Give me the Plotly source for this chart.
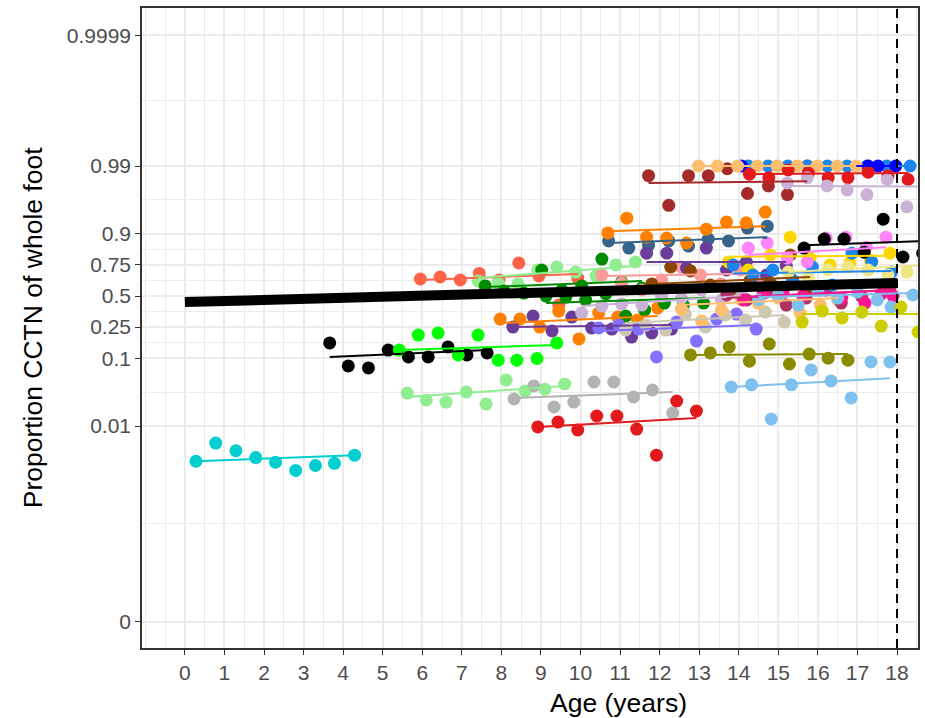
import numpy as np
import plotly.graph_objects as go

# ---------------- data (age in years, proportion CCTN) ----------------
turq_age = [0.28, 0.78, 1.29, 1.79, 2.29, 2.80, 3.30, 3.78, 4.29]
turq_p = [0.0029, 0.0055, 0.0042, 0.0033, 0.0028, 0.0021, 0.0025, 0.0027, 0.0036]
turq_fit = [0.0029, 0.0036]

blackyoung_age = [3.66, 4.13, 4.64, 5.14, 5.65, 6.15, 6.65, 7.13, 7.64]
blackyoung_p = [0.160, 0.078, 0.073, 0.129, 0.104, 0.104, 0.142, 0.111, 0.118]
blackyoung_fit = [0.104, 0.129]

green1_age = [5.42, 5.90, 6.40, 6.91, 7.41, 7.92, 8.39, 8.90, 9.40]
green1_p = [0.129, 0.201, 0.213, 0.111, 0.201, 0.094, 0.094, 0.099, 0.160]
green1_fit = [0.129, 0.151]

palegreenyoung_age = [5.62, 6.10, 6.60, 7.11, 7.61, 8.12, 8.60, 9.10, 9.60]
palegreenyoung_p = [0.0314, 0.0248, 0.0230, 0.0326, 0.0215, 0.0488, 0.0336, 0.0359, 0.0427]
palegreenyoung_fit = [0.0274, 0.040]

gray_age = [8.32, 8.82, 9.33, 9.83, 10.34, 10.84, 11.34, 11.82, 12.33]
gray_p = [0.0256, 0.040, 0.0194, 0.0230, 0.0457, 0.0457, 0.0274, 0.0349, 0.0158]
gray_fit = [0.0266, 0.0326]

redlow_age = [8.92, 9.43, 9.93, 10.41, 10.92, 11.42, 11.92, 12.43, 12.93]
redlow_p = [0.0097, 0.0115, 0.0087, 0.0142, 0.0142, 0.0090, 0.0036, 0.0239, 0.0169]
redlow_fit = [0.0097, 0.0133]

tomato_age = [5.95, 6.45, 6.96, 7.44, 7.94, 8.44, 8.95, 9.45, 9.93]
tomato_p = [0.646, 0.662, 0.638, 0.690, 0.638, 0.763, 0.670, 0.421, 0.654]
tomato_fit = [0.638, 0.686]

orangemid_age = [7.97, 8.47, 8.97, 9.45, 9.96, 10.46, 10.94, 11.44, 11.95]
orangemid_p = [0.307, 0.307, 0.250, 0.370, 0.180, 0.354, 0.322, 0.300, 0.396]
orangemid_fit = [0.278, 0.330]

purple_age = [8.29, 8.80, 9.28, 9.78, 10.28, 10.79, 11.29, 11.80, 12.30]
purple_p = [0.250, 0.330, 0.225, 0.322, 0.244, 0.237, 0.190, 0.213, 0.237]
purple_fit = [0.250, 0.264]

palegreenold_age = [7.41, 7.92, 8.42, 8.92, 9.40, 9.88, 10.39, 10.89, 11.39]
palegreenold_p = [0.630, 0.613, 0.605, 0.715, 0.736, 0.700, 0.670, 0.750, 0.769]
palegreenold_fit = [0.654, 0.743]

green4a_age = [7.59, 8.07, 8.57, 9.02, 9.53, 10.03, 10.54, 11.04, 11.55]
green4a_p = [0.588, 0.544, 0.526, 0.715, 0.553, 0.588, 0.787, 0.622, 0.570]
green4a_fit = [0.579, 0.630]

green4b_age = [9.13, 9.63, 10.13, 10.64, 11.14, 11.62, 12.12, 12.60, 13.11]
green4b_p = [0.500, 0.491, 0.465, 0.518, 0.330, 0.379, 0.438, 0.421, 0.438]
green4b_fit = [0.438, 0.482]

pink_age = [10.54, 11.04, 11.55, 12.05, 12.55, 13.03, 13.54, 14.04, 14.55]
pink_p = [0.677, 0.613, 0.553, 0.638, 0.736, 0.677, 0.605, 0.715, 0.630]
pink_fit = [0.670, 0.690]

thistlemid_age = [10.03, 10.54, 11.04, 11.55, 12.05, 12.55, 13.06, 13.56, 14.07]
thistlemid_p = [0.354, 0.412, 0.430, 0.421, 0.500, 0.482, 0.553, 0.465, 0.509]
thistlemid_fit = [0.412, 0.500]

slate_age = [10.46, 10.97, 11.47, 11.92, 12.43, 12.93, 13.44, 13.94, 14.44]
slate_p = [0.244, 0.264, 0.237, 0.104, 0.285, 0.169, 0.307, 0.346, 0.237]
slate_fit = [0.225, 0.264]

cornsilk_age = [11.14, 11.65, 12.15, 12.65, 13.16, 13.66, 14.17, 14.67, 15.15]
cornsilk_p = [0.231, 0.264, 0.231, 0.346, 0.250, 0.338, 0.300, 0.362, 0.285]
cornsilk_fit = [0.278, 0.338]

steel_age = [10.71, 11.22, 11.72, 12.23, 12.73, 13.23, 13.74, 14.22, 14.72]
steel_p = [0.875, 0.845, 0.858, 0.875, 0.854, 0.882, 0.875, 0.917, 0.922]
steel_fit = [0.867, 0.889]

orangetop_age = [10.69, 11.17, 11.67, 12.18, 12.68, 13.18, 13.69, 14.19, 14.67]
orangetop_p = [0.903, 0.940, 0.889, 0.886, 0.867, 0.914, 0.932, 0.930, 0.951]
orangetop_fit = [0.908, 0.922]

brown_age = [11.72, 12.23, 12.73, 13.23, 13.71, 14.22, 14.75, 15.23, 15.73]
brown_p = [0.986, 0.961, 0.986, 0.986, 0.989, 0.974, 0.980, 0.973, 0.990]
brown_fit = [0.982, 0.983]

purple2_age = [11.67, 12.18, 12.68, 13.18, 13.69, 14.19, 14.70, 15.20]
purple2_p = [0.820, 0.820, 0.729, 0.845, 0.715, 0.769, 0.677, 0.743]
purple2_fit = [0.769, 0.769]

dorange_age = [11.80, 12.28, 12.78, 13.28, 13.79, 14.29, 14.80, 15.30, 15.80]
dorange_p = [0.605, 0.736, 0.708, 0.596, 0.553, 0.638, 0.613, 0.810, 0.570]
dorange_fit = [0.605, 0.662]

lorangemid_age = [12.55, 13.06, 13.56, 14.07, 14.49, 15.00, 15.55, 16.06, 16.50]
lorangemid_p = [0.387, 0.292, 0.379, 0.465, 0.438, 0.482, 0.354, 0.421, 0.465]
lorangemid_fit = [0.421, 0.482]

olive_age = [12.78, 13.28, 13.76, 14.27, 14.77, 15.28, 15.78, 16.26, 16.76]
olive_p = [0.111, 0.118, 0.142, 0.091, 0.155, 0.083, 0.114, 0.100, 0.094]
olive_fit = [0.111, 0.114]

dodgertop_age = [14.24, 14.74, 15.24, 15.74, 16.24, 16.74, 17.24, 17.74, 18.33]
dodgertop_p = [0.990, 0.990, 0.990, 0.990, 0.990, 0.990, 0.990, 0.990, 0.990]
dodgertop_fit = [0.990, 0.990]

blue1_age = [14.07, 17.27, 17.52, 17.97]
blue1_p = [0.990, 0.990, 0.990, 0.990]
blue1_fit = [0.990, 0.990]

lorangetop_age = [12.98, 13.46, 13.97, 14.47, 14.97, 15.48, 15.98, 16.49, 16.97]
lorangetop_p = [0.990, 0.990, 0.990, 0.990, 0.990, 0.990, 0.990, 0.990, 0.990]
lorangetop_fit = [0.990, 0.990]

maroon_age = [13.70, 14.20, 14.70, 15.20, 15.70, 16.20, 16.59, 17.10, 17.82]
maroon_p = [0.509, 0.465, 0.535, 0.421, 0.482, 0.553, 0.438, 0.500, 0.570]
maroon_fit = [0.482, 0.553]

skylow_age = [13.81, 14.32, 14.82, 15.33, 15.83, 16.33, 16.84, 17.34, 17.82]
skylow_p = [0.0386, 0.0415, 0.0128, 0.0415, 0.0684, 0.0474, 0.0266, 0.0886, 0.0886]
skylow_fit = [0.0386, 0.052]

gold_age = [13.74, 14.24, 14.80, 15.30, 15.80, 16.31, 16.81, 17.32, 17.82]
gold_p = [0.769, 0.715, 0.810, 0.889, 0.793, 0.750, 0.763, 0.781, 0.820]
gold_fit = [0.800, 0.806]

dodgermid_age = [13.86, 14.36, 14.86, 15.36, 15.86, 16.36, 16.86, 17.36, 17.86]
dodgermid_p = [0.750, 0.677, 0.715, 0.638, 0.736, 0.596, 0.820, 0.769, 0.700]
dodgermid_fit = [0.690, 0.708]

deeppink_age = [14.12, 14.62, 15.12, 15.62, 16.06, 16.60, 17.19, 17.60, 17.90]
deeppink_p = [0.465, 0.526, 0.535, 0.500, 0.553, 0.482, 0.438, 0.518, 0.500]
deeppink_fit = [0.491, 0.553]

redtop_age = [14.27, 14.76, 15.25, 15.76, 16.26, 16.76, 17.27, 17.77, 18.28]
redtop_p = [0.9867, 0.985, 0.9885, 0.9872, 0.9848, 0.985, 0.9876, 0.986, 0.984]
redtop_fit = [0.9867, 0.9872]

orchid_age = [14.24, 14.72, 15.23, 15.73, 16.21, 16.71, 17.22, 17.72]
orchid_p = [0.845, 0.867, 0.793, 0.769, 0.886, 0.889, 0.849, 0.889]
orchid_fit = [0.810, 0.849]

sky2_age = [14.50, 15.00, 15.50, 16.00, 16.50, 17.00, 17.50, 17.85, 18.40]
sky2_p = [0.465, 0.500, 0.421, 0.553, 0.482, 0.535, 0.465, 0.404, 0.509]
sky2_fit = [0.491, 0.526]

thistletop_age = [15.23, 15.73, 16.23, 16.74, 17.24, 17.75, 18.25, 18.75]
thistletop_p = [0.982, 0.985, 0.980, 0.977, 0.973, 0.984, 0.959, 0.980]
thistletop_fit = [0.980, 0.9795]

khaki_age = [15.25, 15.76, 16.26, 16.76, 17.27, 17.77, 18.25, 18.78]
khaki_p = [0.700, 0.654, 0.715, 0.736, 0.715, 0.677, 0.700, 0.769]
khaki_fit = [0.700, 0.750]

yellow3_age = [15.60, 16.11, 16.61, 17.11, 17.60, 18.10, 18.53]
yellow3_p = [0.285, 0.370, 0.315, 0.362, 0.257, 0.404, 0.219]
yellow3_fit = [0.346, 0.346]

blacktop_age = [15.65, 16.16, 16.66, 17.17, 17.65, 18.15, 18.65]
blacktop_p = [0.845, 0.882, 0.882, 0.825, 0.938, 0.799, 0.820]
blacktop_fit = [0.858, 0.875]

# population-average fit
pop_age = [0, 18]
pop_p = [0.447, 0.613]

# y-axis breaks (proportions) and labels
y_breaks = [0.00001, 0.01, 0.1, 0.25, 0.5, 0.75, 0.9, 0.99, 0.9999]
y_labels = ["0", "0.01", "0.1", "0.25", "0.5", "0.75", "0.9", "0.99", "0.9999"]
x_breaks = list(range(0, 19))
age_cutoff = 18

subjects = [
    (turq_age, turq_p, turq_fit, "#00CED1"),
    (blackyoung_age, blackyoung_p, blackyoung_fit, "#000000"),
    (green1_age, green1_p, green1_fit, "#00FF00"),
    (palegreenyoung_age, palegreenyoung_p, palegreenyoung_fit, "#90EE90"),
    (gray_age, gray_p, gray_fit, "#B3B3B3"),
    (redlow_age, redlow_p, redlow_fit, "#E31A1C"),
    (tomato_age, tomato_p, tomato_fit, "#FF6347"),
    (orangemid_age, orangemid_p, orangemid_fit, "#FF7F00"),
    (purple_age, purple_p, purple_fit, "#6A3D9A"),
    (palegreenold_age, palegreenold_p, palegreenold_fit, "#90EE90"),
    (green4a_age, green4a_p, green4a_fit, "#008B00"),
    (green4b_age, green4b_p, green4b_fit, "#008B00"),
    (pink_age, pink_p, pink_fit, "#FB9A99"),
    (thistlemid_age, thistlemid_p, thistlemid_fit, "#CAB2D6"),
    (slate_age, slate_p, slate_fit, "#8470FF"),
    (cornsilk_age, cornsilk_p, cornsilk_fit, "#CDC8B1"),
    (steel_age, steel_p, steel_fit, "#36648B"),
    (orangetop_age, orangetop_p, orangetop_fit, "#FF7F00"),
    (brown_age, brown_p, brown_fit, "#A52A2A"),
    (purple2_age, purple2_p, purple2_fit, "#6A3D9A"),
    (dorange_age, dorange_p, dorange_fit, "#8B4500"),
    (lorangemid_age, lorangemid_p, lorangemid_fit, "#FDBF6F"),
    (olive_age, olive_p, olive_fit, "#8B8B00"),
    (dodgertop_age, dodgertop_p, dodgertop_fit, "#1C86EE"),
    (blue1_age, blue1_p, blue1_fit, "#0000FF"),
    (lorangetop_age, lorangetop_p, lorangetop_fit, "#FDBF6F"),
    (maroon_age, maroon_p, maroon_fit, "#B03060"),
    (skylow_age, skylow_p, skylow_fit, "#7EC0EE"),
    (gold_age, gold_p, gold_fit, "#FFD700"),
    (dodgermid_age, dodgermid_p, dodgermid_fit, "#1C86EE"),
    (deeppink_age, deeppink_p, deeppink_fit, "#FF1493"),
    (redtop_age, redtop_p, redtop_fit, "#E31A1C"),
    (orchid_age, orchid_p, orchid_fit, "#FF83FA"),
    (sky2_age, sky2_p, sky2_fit, "#7EC0EE"),
    (thistletop_age, thistletop_p, thistletop_fit, "#CAB2D6"),
    (khaki_age, khaki_p, khaki_fit, "#EEE685"),
    (yellow3_age, yellow3_p, yellow3_fit, "#CDCD00"),
    (blacktop_age, blacktop_p, blacktop_fit, "#000000"),
]


def logit(p):
    p = np.asarray(p, dtype=float)
    return np.log(p / (1 - p))


fig = go.Figure()

# points
for age, p, fit, col in subjects:
    fig.add_trace(go.Scatter(
        x=age, y=logit(p), mode="markers",
        marker=dict(size=13, color=col, line=dict(width=0)),
        showlegend=False, hoverinfo="skip"))

# subject fitted lines
for age, p, fit, col in subjects:
    fig.add_trace(go.Scatter(
        x=[min(age), max(age)], y=logit(fit), mode="lines",
        line=dict(color=col, width=2),
        showlegend=False, hoverinfo="skip"))

# population fit
fig.add_trace(go.Scatter(
    x=pop_age, y=logit(pop_p), mode="lines",
    line=dict(color="black", width=10),
    showlegend=False, hoverinfo="skip"))

fig.add_vline(x=age_cutoff, line=dict(color="black", width=2, dash="9px,6px"), layer="above")

ymaj = logit(y_breaks)
ymin = [(a + b) / 2 for a, b in zip(ymaj[:-1], ymaj[1:])]
xmin = [v / 2 for v in range(-2, 38, 1) if v % 2 == 1] + [-1.0]

grid = "#EBEBEB"
fig.update_layout(
    width=925, height=718,
    margin=dict(l=142, r=5, t=8, b=70),
    paper_bgcolor="white", plot_bgcolor="white",
    font=dict(family="Liberation Sans, Arial, sans-serif"),
    xaxis=dict(
        range=[-1.084, 18.53], tickvals=x_breaks, ticktext=[str(v) for v in x_breaks],
        showgrid=True, gridcolor=grid, gridwidth=1.8, zeroline=False,
        ticks="outside", ticklen=5, tickwidth=1.2, tickcolor="#333333",
        tickfont=dict(size=21, color="#4D4D4D"),
        showline=True, mirror=True, linecolor="#333333", linewidth=1.5,
        minor=dict(tickvals=xmin, showgrid=True, gridcolor=grid, gridwidth=0.9, ticks=""),
    ),
    yaxis=dict(
        range=[-12.44, 10.18], tickvals=list(ymaj), ticktext=y_labels,
        showgrid=True, gridcolor=grid, gridwidth=1.8, zeroline=False,
        ticks="outside", ticklen=5, tickwidth=1.2, tickcolor="#333333",
        tickfont=dict(size=21, color="#4D4D4D"),
        showline=True, mirror=True, linecolor="#333333", linewidth=1.5,
        minor=dict(tickvals=ymin, showgrid=True, gridcolor=grid, gridwidth=0.9, ticks=""),
    ),
    annotations=[
        dict(text="Age (years)", xref="paper", yref="paper",
             x=(620 - 142) / 778, y=-(703 - 648) / 640, xanchor="center", yanchor="middle",
             showarrow=False, font=dict(size=26.5, color="black")),
        dict(text="Proportion CCTN of whole foot", xref="paper", yref="paper",
             x=(33 - 142) / 778, y=0.5, xanchor="center", yanchor="middle", textangle=-90,
             showarrow=False, font=dict(size=26.5, color="black")),
    ],
)

fig.write_html("out.html", config={"displayModeBar": False},
               post_script="document.body.style.margin='0';document.body.style.overflow='hidden';")
